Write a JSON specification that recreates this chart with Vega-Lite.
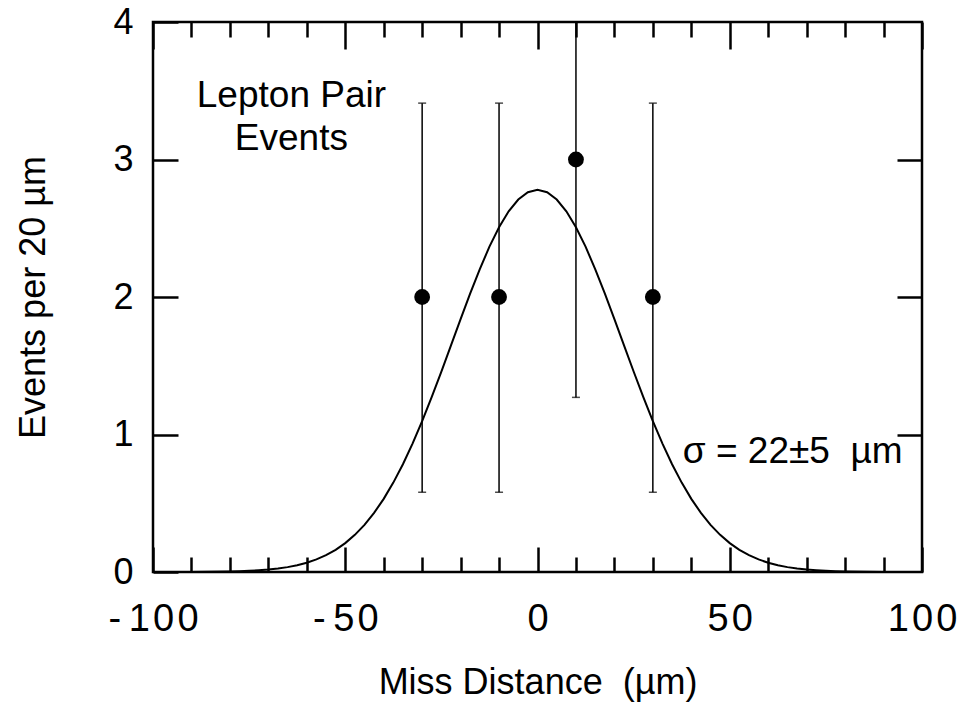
{
  "$schema": "https://vega.github.io/schema/vega-lite/v6.json",
  "width": 769,
  "height": 550,
  "autosize": "none",
  "padding": {"left": 153, "top": 22, "right": 38, "bottom": 132},
  "background": "white",
  "config": {
    "view": {"stroke": "black", "strokeWidth": 2.5},
    "axis": {
      "grid": false,
      "domain": false,
      "labelFont": "Liberation Sans",
      "titleFont": "Liberation Sans",
      "labelColor": "black",
      "titleColor": "black",
      "tickColor": "black",
      "titleFontWeight": "normal",
      "tickWidth": 2.5,
      "labelFlush": false,
      "labelOverlap": false
    },
    "text": {"font": "Liberation Sans", "color": "black"}
  },
  "datasets": {
    "curve": [
      {"distance": -100, "events": 0},
      {"distance": -90, "events": 0.0006},
      {"distance": -85, "events": 0.0016},
      {"distance": -80, "events": 0.0037},
      {"distance": -77.5, "events": 0.0056},
      {"distance": -75, "events": 0.0083},
      {"distance": -72.5, "events": 0.0122},
      {"distance": -70, "events": 0.0176},
      {"distance": -67.5, "events": 0.0251},
      {"distance": -65, "events": 0.0354},
      {"distance": -62.5, "events": 0.0491},
      {"distance": -60, "events": 0.0675},
      {"distance": -57.5, "events": 0.0914},
      {"distance": -55, "events": 0.122},
      {"distance": -52.5, "events": 0.161},
      {"distance": -50, "events": 0.210},
      {"distance": -47.5, "events": 0.270},
      {"distance": -45, "events": 0.343},
      {"distance": -42.5, "events": 0.430},
      {"distance": -40, "events": 0.532},
      {"distance": -37.5, "events": 0.650},
      {"distance": -35, "events": 0.784},
      {"distance": -32.5, "events": 0.934},
      {"distance": -30, "events": 1.097},
      {"distance": -27.5, "events": 1.273},
      {"distance": -25, "events": 1.458},
      {"distance": -22.5, "events": 1.648},
      {"distance": -20, "events": 1.839},
      {"distance": -17.5, "events": 2.026},
      {"distance": -15, "events": 2.203},
      {"distance": -12.5, "events": 2.366},
      {"distance": -10, "events": 2.507},
      {"distance": -7.5, "events": 2.623},
      {"distance": -5, "events": 2.709},
      {"distance": -2.5, "events": 2.762},
      {"distance": 0, "events": 2.78},
      {"distance": 2.5, "events": 2.762},
      {"distance": 5, "events": 2.709},
      {"distance": 7.5, "events": 2.623},
      {"distance": 10, "events": 2.507},
      {"distance": 12.5, "events": 2.366},
      {"distance": 15, "events": 2.203},
      {"distance": 17.5, "events": 2.026},
      {"distance": 20, "events": 1.839},
      {"distance": 22.5, "events": 1.648},
      {"distance": 25, "events": 1.458},
      {"distance": 27.5, "events": 1.273},
      {"distance": 30, "events": 1.097},
      {"distance": 32.5, "events": 0.934},
      {"distance": 35, "events": 0.784},
      {"distance": 37.5, "events": 0.650},
      {"distance": 40, "events": 0.532},
      {"distance": 42.5, "events": 0.430},
      {"distance": 45, "events": 0.343},
      {"distance": 47.5, "events": 0.270},
      {"distance": 50, "events": 0.210},
      {"distance": 52.5, "events": 0.161},
      {"distance": 55, "events": 0.122},
      {"distance": 57.5, "events": 0.0914},
      {"distance": 60, "events": 0.0675},
      {"distance": 62.5, "events": 0.0491},
      {"distance": 65, "events": 0.0354},
      {"distance": 67.5, "events": 0.0251},
      {"distance": 70, "events": 0.0176},
      {"distance": 72.5, "events": 0.0122},
      {"distance": 75, "events": 0.0083},
      {"distance": 77.5, "events": 0.0056},
      {"distance": 80, "events": 0.0037},
      {"distance": 85, "events": 0.0016},
      {"distance": 90, "events": 0.0006},
      {"distance": 100, "events": 0}
    ],
    "points": [
      {"distance": -30, "events": 2, "lo": 0.58, "hi": 3.41},
      {"distance": -10, "events": 2, "lo": 0.58, "hi": 3.41},
      {"distance": 10, "events": 3, "lo": 1.27, "hi": 4.73},
      {"distance": 30, "events": 2, "lo": 0.58, "hi": 3.41}
    ],
    "labelsCenter": [
      {"distance": -64, "events": 3.38, "label": "Lepton Pair"},
      {"distance": -64, "events": 3.07, "label": "Events"}
    ],
    "labelsLeft": [
      {"distance": 37.8, "events": 0.79, "label": "σ = 22±5\u00a0\u00a0µm"}
    ]
  },
  "layer": [
    {
      "data": {"name": "curve"},
      "mark": {"type": "line", "color": "black", "strokeWidth": 2, "clip": true},
      "encoding": {
        "x": {
          "field": "distance", "type": "quantitative",
          "scale": {"domain": [-100, 100], "nice": false, "zero": false},
          "axis": {
            "orient": "bottom",
            "values": [-100, -90, -80, -70, -60, -50, -40, -30, -20, -10, 0, 10, 20, 30, 40, 50, 60, 70, 80, 90, 100],
            "labelExpr": "datum.value == -100 ? '-\u20091\u200a0\u200a0' : datum.value == -50 ? '-\u20095\u200a0' : datum.value == 0 ? '0' : datum.value == 50 ? '5\u200a0' : datum.value == 100 ? '1\u200a0\u200a0' : ''",
            "tickSize": {"condition": {"test": "datum.value % 50 === 0", "value": -25}, "value": -15},
            "labelPadding": 53,
            "labelFontSize": 38,
            "title": "Miss Distance\u00a0 (µm)",
            "titleFontSize": 36,
            "titlePadding": 17
          }
        },
        "y": {
          "field": "events", "type": "quantitative",
          "scale": {"domain": [0, 4], "nice": false},
          "axis": {
            "orient": "left",
            "values": [0, 1, 2, 3, 4],
            "tickSize": -25,
            "labelPadding": 45,
            "labelFontSize": 36,
            "title": "Events per 20 µm",
            "titleFontSize": 36,
            "titlePadding": 60
          }
        }
      }
    },
    {
      "data": {"name": "points"},
      "mark": {"type": "rule", "color": "black", "strokeWidth": 1.5, "clip": true},
      "encoding": {
        "x": {
          "field": "distance", "type": "quantitative",
          "axis": {
            "orient": "top",
            "values": [-100, -90, -80, -70, -60, -50, -40, -30, -20, -10, 0, 10, 20, 30, 40, 50, 60, 70, 80, 90, 100],
            "labels": false,
            "tickSize": {"condition": {"test": "datum.value % 50 === 0", "value": -27}, "value": -15},
            "title": null
          }
        },
        "y": {
          "field": "lo", "type": "quantitative",
          "axis": {
            "orient": "right",
            "values": [1, 2, 3],
            "labels": false,
            "tickSize": -25,
            "title": null
          }
        },
        "y2": {"field": "hi"}
      }
    },
    {
      "data": {"name": "points"},
      "mark": {"type": "tick", "orient": "horizontal", "color": "black", "size": 8, "thickness": 1.5, "clip": true},
      "encoding": {
        "x": {"field": "distance", "type": "quantitative", "axis": null},
        "y": {"field": "lo", "type": "quantitative", "axis": null}
      }
    },
    {
      "data": {"name": "points"},
      "mark": {"type": "tick", "orient": "horizontal", "color": "black", "size": 8, "thickness": 1.5, "clip": true},
      "encoding": {
        "x": {"field": "distance", "type": "quantitative", "axis": null},
        "y": {"field": "hi", "type": "quantitative", "axis": null}
      }
    },
    {
      "data": {"name": "points"},
      "mark": {"type": "point", "filled": true, "color": "black", "opacity": 1, "size": 250, "shape": "circle"},
      "encoding": {
        "x": {"field": "distance", "type": "quantitative", "axis": null},
        "y": {"field": "events", "type": "quantitative", "axis": null}
      }
    },
    {
      "data": {"name": "labelsCenter"},
      "mark": {"type": "text", "align": "center", "baseline": "alphabetic", "fontSize": 37},
      "encoding": {
        "x": {"field": "distance", "type": "quantitative", "axis": null},
        "y": {"field": "events", "type": "quantitative", "axis": null},
        "text": {"field": "label"}
      }
    },
    {
      "data": {"name": "labelsLeft"},
      "mark": {"type": "text", "align": "left", "baseline": "alphabetic", "fontSize": 37},
      "encoding": {
        "x": {"field": "distance", "type": "quantitative", "axis": null},
        "y": {"field": "events", "type": "quantitative", "axis": null},
        "text": {"field": "label"}
      }
    }
  ]
}
